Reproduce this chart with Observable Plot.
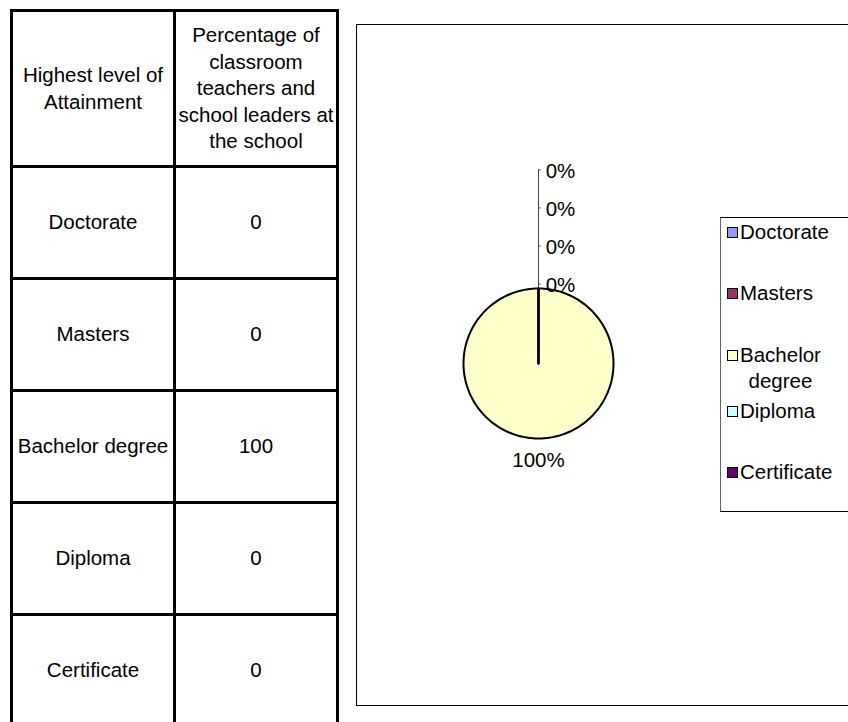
<!DOCTYPE html>
<html>
<head>
<meta charset="utf-8">
<script src="https://cdn.jsdelivr.net/npm/d3@7"></script>
<script src="https://cdn.jsdelivr.net/npm/@observablehq/plot@0.6"></script>
<style>
  html, body { margin: 0; padding: 0; background: #fff; }
  body { width: 848px; height: 722px; overflow: hidden; position: relative;
         font-family: "Liberation Sans", Arial, sans-serif; color: #000; }
  #table { position: absolute; left: 10px; top: 9px; display: grid;
           grid-template-columns: 160px 160px;
           grid-template-rows: 153px repeat(5, 109px);
           gap: 3px; padding: 3px; background: #000; }
  #table div { background: #fff; display: flex; align-items: center; justify-content: center;
               text-align: center; font-size: 20.5px; line-height: 26.5px; }
  #chartbox { position: absolute; left: 356px; top: 24px; width: 560px; height: 682px;
              border: 1px solid #000; box-sizing: border-box; background: #fff; }
  #plot { position: absolute; left: 356px; top: 24px; }
  #legend { position: absolute; left: 720px; top: 217px; width: 160px; height: 295px;
            border: 1px solid #000; border-left-color: #666; box-sizing: border-box; background: #fff; }
  .entry { position: absolute; left: 6px; display: flex; align-items: flex-start; }
  .swatch { width: 9px; height: 9px; border: 1.5px solid #000; margin-top: 8px; margin-right: 2px; flex: none; }
  .lab { font-size: 20.5px; line-height: 26px; width: min-content; text-align: center; white-space: normal; }
</style>
</head>
<body>
<div id="table"></div>
<div id="chartbox"></div>
<div id="plot"></div>
<div id="legend"></div>
<script>
// ---- data ----
const headers = ["Highest level of Attainment", "Percentage of classroom teachers and school leaders at the school"];
const categories = ["Doctorate", "Masters", "Bachelor degree", "Diploma", "Certificate"];
const percentages = [0, 0, 100, 0, 0];
const colors = ["#9999FF", "#993366", "#FFFFCC", "#CCFFFF", "#660066"];

// ---- table ----
const table = document.getElementById("table");
const addCell = (t) => { const d = document.createElement("div"); d.textContent = t; table.appendChild(d); };
headers.forEach(addCell);
categories.forEach((c, i) => { addCell(c); addCell(String(percentages[i])); });

// ---- pie geometry (unit circle, angle clockwise from 12 o'clock) ----
const total = d3.sum(percentages);
let start = 0;
const slicePts = [];
const labels = [];
let zeroCount = 0;
categories.forEach((cat, i) => {
  const a0 = start, a1 = start + (percentages[i] / total) * 2 * Math.PI;
  start = a1;
  const steps = Math.max(1, Math.ceil((a1 - a0) / (Math.PI / 180)));
  slicePts.push({cat, x: 0, y: 0});
  for (let k = 0; k <= steps; k++) {
    const a = a0 + (a1 - a0) * k / steps;
    slicePts.push({cat, x: Math.sin(a), y: Math.cos(a)});
  }
  slicePts.push({cat, x: 0, y: 0});
  const pct = Math.round(percentages[i] / total * 100) + "%";
  if (percentages[i] > 0) {
    const m = (a0 + a1) / 2;
    labels.push({text: pct, x: 1.29 * Math.sin(m), y: 1.29 * Math.cos(m), anchor: "middle", zero: false});
  } else {
    const r = 1.04 + zeroCount * 0.507;
    zeroCount++;
    labels.push({text: pct, x: 0.095, y: r, anchor: "start", zero: true, tx: Math.sin(a0), ty: r + 0.02});
  }
});
const zeroLabels = labels.filter(d => d.zero);
const otherLabels = labels.filter(d => !d.zero);
const topTick = d3.max(zeroLabels, d => d.ty);

const chart = Plot.plot({
  width: 492, height: 682,
  margin: 0,
  style: {fontFamily: "Liberation Sans, Arial, sans-serif", background: "transparent", overflow: "visible"},
  x: {domain: [-1, 1], range: [107, 257], axis: null},
  y: {domain: [-1, 1], range: [414, 264], axis: null},
  color: {domain: categories, range: colors},
  marks: [
    Plot.ruleX([0], {y1: 1, y2: topTick, stroke: "#444", strokeWidth: 1}),
    Plot.ruleY(zeroLabels, {y: "ty", x1: 0, x2: 0.035, stroke: "#444", strokeWidth: 1}),
    Plot.line(slicePts, {x: "x", y: "y", z: "cat", fill: "cat", stroke: "#000", strokeWidth: 2, curve: "linear", strokeLinejoin: "round"}),
    Plot.text(zeroLabels, {x: "x", y: "y", text: "text", textAnchor: "start", fontSize: 20.5, fill: "#000"}),
    Plot.text(otherLabels, {x: "x", y: "y", text: "text", textAnchor: "middle", fontSize: 20.5, fill: "#000"})
  ]
});
document.getElementById("plot").appendChild(chart);

// ---- legend ----
const legend = document.getElementById("legend");
const entryCenters = [14, 75, 137, 193, 254]; // layout slots inside legend box
categories.forEach((c, i) => {
  const e = document.createElement("div");
  e.className = "entry";
  e.style.top = (entryCenters[i] - 13) + "px";
  const s = document.createElement("div");
  s.className = "swatch";
  s.style.background = colors[i];
  const l = document.createElement("div");
  l.className = "lab";
  l.textContent = c;
  e.appendChild(s); e.appendChild(l);
  legend.appendChild(e);
});
</script>
</body>
</html>
